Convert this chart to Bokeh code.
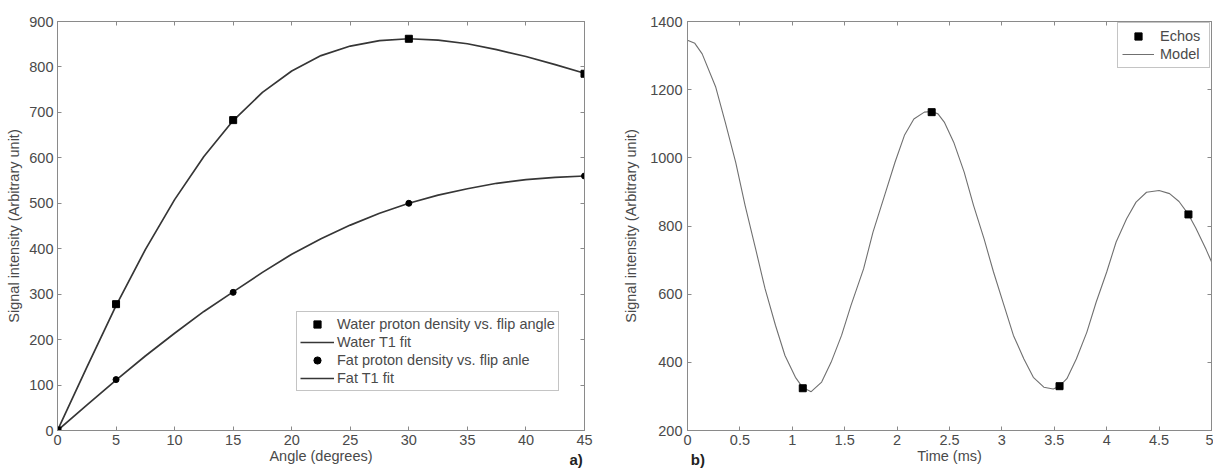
from bokeh.plotting import figure
from bokeh.layouts import row
from bokeh.models import (FixedTicker, LinearAxis, CustomJSTickFormatter,
                          Legend, LegendItem, Range1d)
from bokeh.embed import file_html
from bokeh.resources import INLINE

# ---------------- Panel a) data ----------------
angle_points = [0, 5, 15, 30, 45]
water_points = [0, 278, 683, 862, 785]
fat_points = [0, 112, 304, 500, 560]

angle_fit = [0, 2.5, 5, 7.5, 10, 12.5, 15, 17.5, 20, 22.5, 25, 27.5, 30,
             32.5, 35, 37.5, 40, 42.5, 45]
water_fit = [0, 139, 275, 398, 508, 603, 682, 744, 791, 825, 846, 858, 862,
             859, 851, 838, 823, 805, 786]
fat_fit = [0, 56, 111, 164, 214, 262, 305, 348, 388, 422, 452, 478, 500,
           518, 532, 544, 552, 557, 560]

angle_ticks = [0, 5, 10, 15, 20, 25, 30, 35, 40, 45]
signal_ticks_a = [0, 100, 200, 300, 400, 500, 600, 700, 800, 900]

legend_labels_a = ["Water proton density vs. flip angle", "Water T1 fit",
                   "Fat proton density vs. flip anle", "Fat T1 fit"]

# ---------------- Panel b) data ----------------
echo_times = [1.10, 2.33, 3.55, 4.78]
echo_values = [324, 1134, 330, 834]

model_times = [0.00, 0.07, 0.14, 0.27, 0.36, 0.46, 0.55, 0.65, 0.74, 0.84,
               0.93, 1.03, 1.10, 1.18, 1.28, 1.37, 1.47, 1.56, 1.68, 1.77,
               1.88, 1.98, 2.07, 2.16, 2.26, 2.33, 2.39, 2.45, 2.54, 2.64,
               2.73, 2.83, 2.92, 3.02, 3.11, 3.21, 3.30, 3.40, 3.49, 3.55,
               3.62, 3.71, 3.81, 3.90, 4.00, 4.09, 4.19, 4.28, 4.38, 4.50,
               4.60, 4.69, 4.78, 4.85, 4.95, 5.00]
model_values = [1345, 1336, 1305, 1207, 1105, 987, 860, 733, 616, 508,
                420, 356, 326, 314, 342, 400, 479, 567, 674, 782,
                889, 987, 1066, 1114, 1134, 1136, 1129, 1105, 1046, 958,
                860, 762, 665, 567, 479, 410, 356, 327, 322, 330,
                352, 410, 488, 577, 665, 753, 821, 870, 899, 904,
                895, 872, 834, 794, 730, 695]

time_ticks = [0, 0.5, 1, 1.5, 2, 2.5, 3, 3.5, 4, 4.5, 5]
signal_ticks_b = [200, 400, 600, 800, 1000, 1200, 1400]

legend_labels_b = ["Echos", "Model"]
panel_tags = ["a)", "b)"]

# ---------------- styling ----------------
FONT = "Liberation Sans"
FS = "14.5px"
AX_COLOR = "#8a8a8a"
TXT_COLOR = "#4a4a4a"
NBSP = "\u00a0"


def style_axis(ax, label=True):
    ax.axis_line_color = AX_COLOR
    ax.major_tick_line_color = AX_COLOR
    ax.major_tick_in = 4
    ax.major_tick_out = 0
    ax.minor_tick_line_color = None
    ax.major_label_text_font = FONT
    ax.major_label_text_color = TXT_COLOR
    ax.axis_label_text_font = FONT
    ax.axis_label_text_font_style = "normal"
    ax.axis_label_text_color = TXT_COLOR
    ax.axis_label_text_font_size = FS
    if label:
        ax.major_label_text_font_size = FS
        ax.major_label_standoff = 4
    else:
        ax.major_label_text_font_size = "0px"
        ax.major_label_standoff = 0
        ax.formatter = CustomJSTickFormatter(code="return ''")


def mirror_axes(p, xticks, yticks):
    top = LinearAxis(ticker=FixedTicker(ticks=xticks))
    style_axis(top, label=False)
    p.add_layout(top, "above")
    right = LinearAxis(ticker=FixedTicker(ticks=yticks))
    style_axis(right, label=False)
    p.add_layout(right, "right")


def tag_axis(p, text, align):
    # an invisible bottom axis whose (bold) axis label carries the panel tag
    ax = LinearAxis(ticker=FixedTicker(ticks=[]))
    style_axis(ax, label=False)
    ax.axis_line_color = None
    ax.major_tick_line_color = None
    ax.axis_label = text
    ax.axis_label_text_font_style = "bold"
    ax.axis_label_text_font_size = "15px"
    ax.axis_label_text_color = "#222222"
    ax.axis_label_align = align
    ax.axis_label_standoff = -16
    p.add_layout(ax, "below")


# ---------------- Panel a) ----------------
pa = figure(width=620, height=472, output_backend="svg", toolbar_location=None,
            x_range=Range1d(0, 45), y_range=Range1d(0, 900),
            min_border_left=57, min_border_right=36,
            min_border_top=20, min_border_bottom=42)
pa.grid.grid_line_color = None
pa.outline_line_color = AX_COLOR
pa.background_fill_color = "white"
pa.border_fill_color = "white"

pa.xaxis.ticker = FixedTicker(ticks=angle_ticks)
pa.yaxis.ticker = FixedTicker(ticks=signal_ticks_a)
pa.xaxis.axis_label = "Angle (degrees)"
pa.yaxis.axis_label = "Signal intensity (Arbitrary unit)"
for ax in pa.xaxis + pa.yaxis:
    style_axis(ax)
pa.xaxis.axis_label_standoff = 0
pa.yaxis.axis_label_standoff = 4
mirror_axes(pa, angle_ticks, signal_ticks_a)
tag_axis(pa, panel_tags[0] + NBSP * 4, "end")

r_wfit = pa.line(angle_fit, water_fit, line_color="#363636", line_width=1.7)
r_ffit = pa.line(angle_fit, fat_fit, line_color="#363636", line_width=1.7)
r_wpts = pa.scatter(angle_points, water_points, marker="square", size=7,
                    color="black")
r_fpts = pa.scatter(angle_points, fat_points, marker="circle", size=6,
                    color="black")

leg_a = Legend(items=[LegendItem(label=legend_labels_a[0], renderers=[r_wpts]),
                      LegendItem(label=legend_labels_a[1], renderers=[r_wfit]),
                      LegendItem(label=legend_labels_a[2], renderers=[r_fpts]),
                      LegendItem(label=legend_labels_a[3], renderers=[r_ffit])],
               location=(239, 39), margin=0, padding=3, spacing=0,
               glyph_width=34, glyph_height=18, label_height=18,
               label_standoff=3, border_line_color=AX_COLOR,
               label_text_font=FONT, label_text_font_size=FS,
               label_text_color=TXT_COLOR, background_fill_alpha=1.0)
pa.add_layout(leg_a)

# ---------------- Panel b) ----------------
pb = figure(width=593, height=472, output_backend="svg", toolbar_location=None,
            x_range=Range1d(0, 5), y_range=Range1d(200, 1400),
            min_border_left=65, min_border_right=2,
            min_border_top=21, min_border_bottom=41)
pb.grid.grid_line_color = None
pb.outline_line_color = AX_COLOR
pb.background_fill_color = "white"
pb.border_fill_color = "white"

pb.xaxis.ticker = FixedTicker(ticks=time_ticks)
pb.yaxis.ticker = FixedTicker(ticks=signal_ticks_b)
pb.xaxis.axis_label = "Time (ms)"
pb.yaxis.axis_label = "Signal intensity (Arbitrary unit)"
for ax in pb.xaxis + pb.yaxis:
    style_axis(ax)
pb.xaxis.formatter = CustomJSTickFormatter(code="return tick.toString()")
pb.xaxis.axis_label_standoff = 0
pb.yaxis.axis_label_standoff = 8
pb.yaxis.major_label_standoff = 5
mirror_axes(pb, time_ticks, signal_ticks_b)
tag_axis(pb, NBSP * 5 + panel_tags[1], "start")

r_model = pb.line(model_times, model_values, line_color="#707070",
                  line_width=1.1)
r_echo = pb.scatter(echo_times, echo_values, marker="square", size=7,
                    color="black")

leg_b = Legend(items=[LegendItem(label=legend_labels_b[0], renderers=[r_echo]),
                      LegendItem(label=legend_labels_b[1], renderers=[r_model])],
               location="top_right", margin=1, padding=4, spacing=0,
               glyph_width=32, glyph_height=18, label_height=18,
               label_standoff=6, label_width=45, border_line_color=AX_COLOR,
               label_text_font=FONT, label_text_font_size=FS,
               label_text_color=TXT_COLOR, background_fill_alpha=1.0)
pb.add_layout(leg_b)

layout = row(pa, pb)
open("out.html", "w").write(file_html(layout, INLINE))
